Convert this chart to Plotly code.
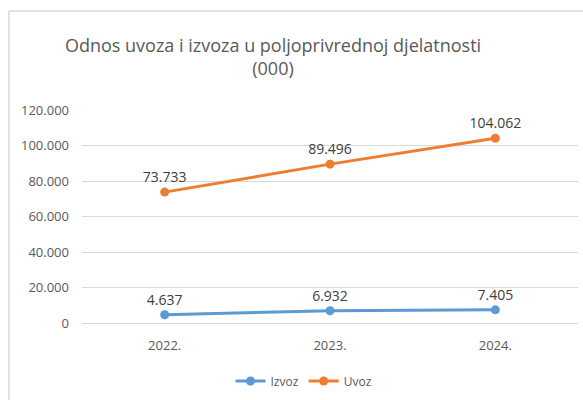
import plotly.graph_objects as go

# Data (values in thousands)
years = ["2022.", "2023.", "2024."]
izvoz = [4637, 6932, 7405]
uvoz = [73733, 89496, 104062]
title_text = "Odnos uvoza i izvoza u poljoprivrednoj djelatnosti<br>(000)"

W, H = 583, 400
ML, MR, MT, MB = 82, 5, 110, 77
plot_w = W - ML - MR
plot_h = H - MT - MB

gray_text = "#595959"
grid = "#d9d9d9"
font_family = "Open Sans, Calibri, sans-serif"

fig = go.Figure()

series = [("Izvoz", izvoz, "#5B9BD5"), ("Uvoz", uvoz, "#ED7D31")]
for name, vals, color in series:
    fig.add_trace(go.Scatter(
        x=years, y=vals, name=name,
        mode="lines+markers+text",
        line=dict(color=color, width=3),
        marker=dict(color=color, size=9),
        text=vals,
        texttemplate="%{y:,d}",
        textposition="top center",
        textfont=dict(size=14, color="#404040", family=font_family),
        cliponaxis=False,
    ))

# Chart frame: top and left edges of the outer border
def px_to_paper_x(px):
    return (px - ML) / plot_w

def px_to_paper_y(py):
    return (H - MB - py) / plot_h

fig.add_shape(type="line", xref="paper", yref="paper",
              x0=px_to_paper_x(9), x1=px_to_paper_x(583),
              y0=px_to_paper_y(11), y1=px_to_paper_y(11),
              line=dict(color=grid, width=1.5))
fig.add_shape(type="line", xref="paper", yref="paper",
              x0=px_to_paper_x(9), x1=px_to_paper_x(9),
              y0=px_to_paper_y(11), y1=px_to_paper_y(400),
              line=dict(color=grid, width=1.5))

fig.update_layout(
    width=W, height=H,
    margin=dict(l=ML, r=MR, t=MT, b=MB),
    paper_bgcolor="white", plot_bgcolor="white",
    separators=",.",
    font=dict(family=font_family, color=gray_text),
    title=dict(text=title_text, x=273 / W, xanchor="center",
               y=1 - 52 / H, yanchor="middle",
               font=dict(size=18, color=gray_text, family=font_family)),
    showlegend=True,
    legend=dict(orientation="h", x=px_to_paper_x(304), xanchor="center",
                y=px_to_paper_y(381), yanchor="middle",
                font=dict(size=12, color=gray_text, family=font_family),
                itemwidth=30),
    xaxis=dict(range=[-0.5, 2.5], showgrid=False, showline=True,
               linecolor=grid, linewidth=1,
               ticks="", tickfont=dict(size=13, color=gray_text),
               ticklabelstandoff=10),
    yaxis=dict(range=[0, 120000], dtick=20000, tickformat=",d",
               showgrid=True, gridcolor=grid, gridwidth=1,
               zeroline=False, showline=False, ticks="",
               tickfont=dict(size=13, color=gray_text),
               ticklabelstandoff=12),
)

fig.write_html("out.html")
